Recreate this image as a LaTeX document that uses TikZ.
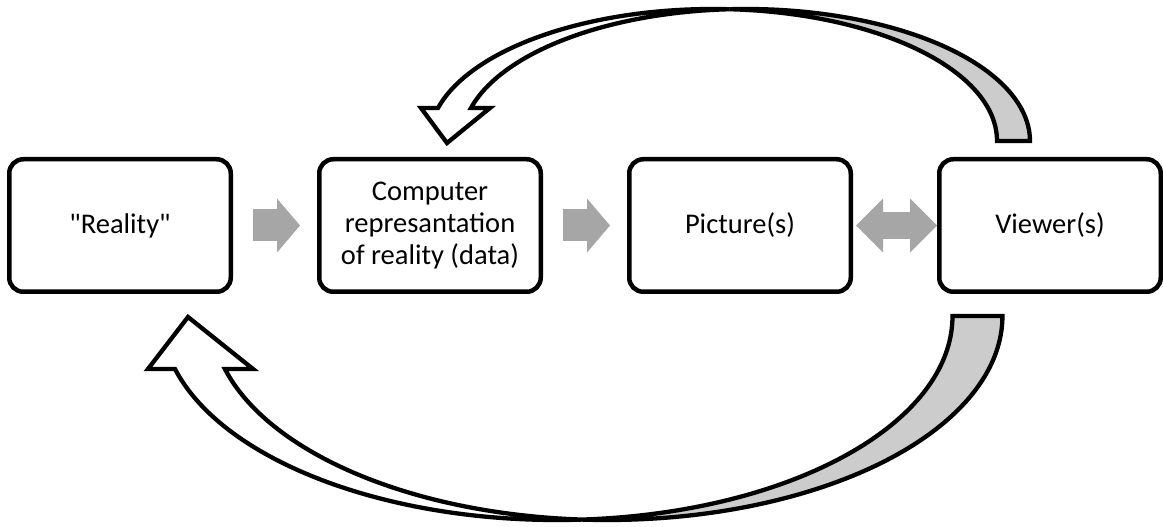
\documentclass[tikz,border=0pt]{standalone}
\usepackage{fontspec}
\newfontfamily\carlito{Carlito}
\usetikzlibrary{arrows.meta}
\definecolor{arrowgray}{HTML}{A6A6A6}
\definecolor{backgray}{HTML}{CCCCCC}
\begin{document}
\begin{tikzpicture}[x=1pt,y=1pt,
  box/.style={draw=black, line width=4.5pt, rounded corners=14pt, fill=white,
    minimum width=221.5pt, minimum height=132.5pt, inner sep=0pt, align=center,
    font=\carlito\fontsize{28.5}{32}\selectfont},
  flowarrow/.style={draw=arrowgray, line width=32pt,
    -{Triangle[length=23pt, width=54pt, line width=0pt]}},
  duoarrow/.style={draw=arrowgray, line width=27pt,
    {Triangle[length=27pt, width=54pt, line width=0pt]}-{Triangle[length=27pt, width=54pt, line width=0pt]}},
  ribbon/.style={draw=black, line width=4.3pt, fill=white},
  ribbonback/.style={draw=black, line width=4.3pt, fill=backgray}]
\fill[white] (0,0) rectangle (1163,527);
\useasboundingbox (0,0) rectangle (1163,527);

\node[box] (r) at (120,301.5) {"Reality"};
\node[box] (c) at (430,301.5) {Computer\\represantation\\of reality (data)};
\node[box] (p) at (740,301.5) {Picture(s)};
\node[box] (v) at (1050,301.5) {Viewer(s)};

\draw[flowarrow, shorten <=20pt, shorten >=17pt] (r.east) -- (c.west);
\draw[flowarrow, shorten <=20pt, shorten >=17pt] (c.east) -- (p.west);
\draw[duoarrow, shorten <=3pt, shorten >=0pt] (p.east) -- (v.west);

% top curved arrow: Viewer -> Computer
\draw[ribbonback] (997,386) arc[start angle=0, end angle=86.67, x radius=284, y radius=132]
  arc[start angle=93.33, end angle=0, x radius=284, y radius=132] -- cycle;
\draw[ribbon] (438,419) arc[start angle=165.52, end angle=86.67, x radius=284, y radius=132]
  arc[start angle=93.33, end angle=165.52, x radius=284, y radius=132]
  -- (490,419) -- (447,384) -- (421,419) -- cycle;

% bottom curved arrow: Viewer -> Reality
\draw[ribbonback] (952.5,211) arc[start angle=360, end angle=273.62, x radius=395.5, y radius=204]
  arc[start angle=266.38, end angle=360, x radius=395.5, y radius=204] -- cycle;
\draw[ribbon] (175,158) arc[start angle=195.06, end angle=273.62, x radius=395.5, y radius=204]
  arc[start angle=266.38, end angle=195.06, x radius=395.5, y radius=204]
  -- (253,158) -- (188,210) -- (148,158) -- cycle;
\end{tikzpicture}
\end{document}
